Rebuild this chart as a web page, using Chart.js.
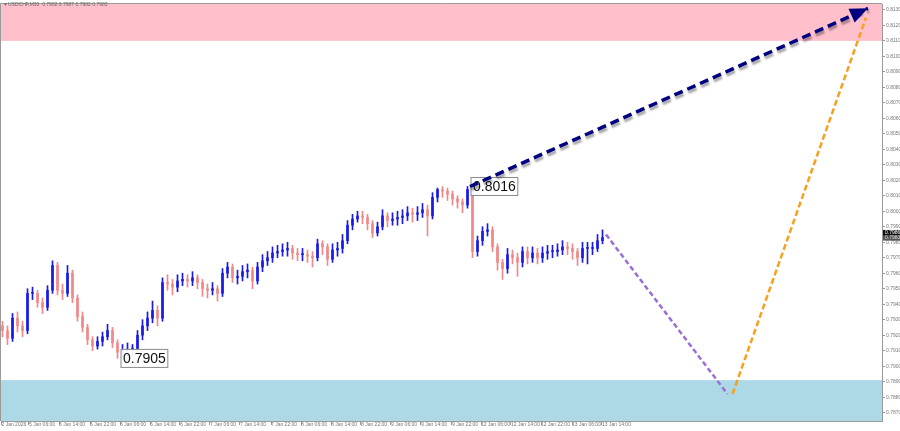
<!DOCTYPE html>
<html>
<head>
<meta charset="utf-8">
<script src="https://cdn.jsdelivr.net/npm/chart.js@4.4.0/dist/chart.umd.min.js"></script>
<style>
  html, body { margin: 0; padding: 0; background: #fff; }
  #wrap { width: 900px; height: 431px; position: relative; }
</style>
</head>
<body>
<div id="wrap"><canvas id="chart"></canvas></div>
<script>
// USDCHF M30 - candles (one candle per ~5px)
const opens = [
  0.7926,0.7923,0.7918,0.7931,0.7926,0.7923,0.7947,0.7947,0.7941,0.7938,
  0.7949,0.7965,0.7949,0.7947,0.7960,0.7944,0.7932,0.7925,0.7917,0.7913,
  0.7916,0.7919,0.7923,0.7915,0.7909,0.7910,0.7911,0.7911,0.7920,0.7926,
  0.7931,0.7936,0.7931,0.7954,0.7953,0.7951,0.7955,0.7956,0.7955,0.7957,
  0.7954,0.7950,0.7949,0.7950,0.7947,0.7960,0.7964,0.7957,0.7958,0.7961,
  0.7962,0.7955,0.7964,0.7968,0.7970,0.7973,0.7974,0.7975,0.7976,0.7973,
  0.7972,0.7972,0.7971,0.7970,0.7979,0.7977,0.7969,0.7975,0.7976,0.7981,
  0.7991,0.7995,0.7997,0.7996,0.7992,0.7986,0.7990,0.7997,0.7994,0.7995,
  0.7996,0.7997,0.7999,0.7998,0.7999,0.8001,0.7997,0.8009,0.8014,0.8013,
  0.8011,0.8008,0.8006,0.8004,0.8014,0.7974,0.7981,0.7987,0.7988,0.7977,
  0.7967,0.7963,0.7972,0.7970,0.7967,0.7974,0.7970,0.7973,0.7970,0.7973,
  0.7974,0.7974,0.7975,0.7977,0.7976,0.7974,0.7970,0.7976,0.7976,0.7976,
  0.7981
];
const closes = [
  0.7923,0.7918,0.7931,0.7926,0.7923,0.7947,0.7947,0.7941,0.7938,0.7949,
  0.7965,0.7949,0.7947,0.7960,0.7944,0.7932,0.7925,0.7917,0.7913,0.7916,
  0.7919,0.7923,0.7915,0.7909,0.7910,0.7911,0.7911,0.7920,0.7926,0.7931,
  0.7936,0.7931,0.7954,0.7953,0.7951,0.7955,0.7956,0.7955,0.7957,0.7954,
  0.7950,0.7949,0.7950,0.7947,0.7960,0.7964,0.7957,0.7958,0.7961,0.7962,
  0.7955,0.7964,0.7968,0.7970,0.7973,0.7974,0.7975,0.7976,0.7973,0.7972,
  0.7972,0.7971,0.7970,0.7979,0.7977,0.7969,0.7975,0.7976,0.7981,0.7991,
  0.7995,0.7997,0.7996,0.7992,0.7986,0.7990,0.7997,0.7994,0.7995,0.7996,
  0.7997,0.7999,0.7998,0.7999,0.8001,0.7997,0.8009,0.8014,0.8013,0.8011,
  0.8008,0.8006,0.8004,0.8014,0.7974,0.7981,0.7987,0.7988,0.7977,0.7967,
  0.7963,0.7972,0.7970,0.7967,0.7974,0.7970,0.7973,0.7970,0.7973,0.7974,
  0.7974,0.7975,0.7977,0.7976,0.7974,0.7970,0.7976,0.7976,0.7976,0.7981,
  0.7983
];
const highs = [
  0.7929,0.7926,0.7934,0.7935,0.7929,0.7950,0.7951,0.7949,0.7944,0.7952,
  0.7968,0.7967,0.7953,0.7965,0.7962,0.7946,0.7935,0.7927,0.7919,0.7919,
  0.7922,0.7927,0.7925,0.7917,0.7914,0.7915,0.7914,0.7923,0.7930,0.7935,
  0.7942,0.7939,0.7957,0.7959,0.7956,0.7959,0.7960,0.7959,0.7961,0.7959,
  0.7956,0.7953,0.7954,0.7952,0.7963,0.7967,0.7966,0.7962,0.7965,0.7966,
  0.7964,0.7967,0.7972,0.7974,0.7977,0.7978,0.7979,0.7980,0.7978,0.7976,
  0.7976,0.7975,0.7974,0.7982,0.7981,0.7979,0.7979,0.7980,0.7985,0.7994,
  0.7998,0.8000,0.8000,0.7998,0.7994,0.7993,0.8001,0.7999,0.7999,0.8000,
  0.8001,0.8003,0.8002,0.8003,0.8005,0.8004,0.8012,0.8015,0.8016,0.8015,
  0.8013,0.8010,0.8008,0.8016,0.8015,0.7984,0.7990,0.7992,0.7990,0.7979,
  0.7969,0.7976,0.7975,0.7973,0.7977,0.7977,0.7977,0.7976,0.7977,0.7978,
  0.7978,0.7979,0.7981,0.7980,0.7979,0.7976,0.7980,0.7980,0.7980,0.7985,
  0.7988
];
const lows = [
  0.7919,0.7914,0.7916,0.7922,0.7919,0.7921,0.7943,0.7938,0.7934,0.7936,
  0.7947,0.7946,0.7943,0.7945,0.7941,0.7929,0.7922,0.7914,0.7910,0.7911,
  0.7913,0.7917,0.7912,0.7905,0.7906,0.7907,0.7907,0.7909,0.7917,0.7923,
  0.7928,0.7926,0.7929,0.7949,0.7946,0.7948,0.7952,0.7951,0.7952,0.7950,
  0.7945,0.7944,0.7946,0.7942,0.7945,0.7957,0.7954,0.7953,0.7955,0.7957,
  0.7950,0.7953,0.7961,0.7965,0.7967,0.7970,0.7971,0.7971,0.7969,0.7968,
  0.7968,0.7967,0.7964,0.7968,0.7972,0.7965,0.7967,0.7971,0.7973,0.7979,
  0.7988,0.7993,0.7992,0.7988,0.7983,0.7984,0.7988,0.7990,0.7991,0.7991,
  0.7992,0.7994,0.7993,0.7994,0.7996,0.7984,0.7995,0.8006,0.8009,0.8007,
  0.8004,0.8002,0.7999,0.8002,0.7970,0.7971,0.7978,0.7984,0.7974,0.7962,
  0.7956,0.7960,0.7966,0.7958,0.7964,0.7966,0.7967,0.7966,0.7967,0.7969,
  0.7970,0.7971,0.7972,0.7972,0.7969,0.7965,0.7967,0.7966,0.7972,0.7974,
  0.7979
];

// time axis labels and where they sit (candle index)
const timeLabels = ['2 Jan 2026','5 Jan 06:00','5 Jan 14:00','5 Jan 22:00','6 Jan 06:00','6 Jan 14:00',
  '6 Jan 22:00','7 Jan 06:00','7 Jan 14:00','7 Jan 22:00','8 Jan 06:00','8 Jan 14:00','8 Jan 22:00',
  '9 Jan 06:00','9 Jan 14:00','9 Jan 22:00','12 Jan 06:00','12 Jan 14:00','12 Jan 22:00',
  '13 Jan 06:00','13 Jan 14:00'];
const timeTickPos = [-0.2,5.3,11.3,17.5,23.5,29.5,35.5,41.5,47.5,53.7,59.7,65.7,71.7,77.7,83.7,
  89.9,95.7,101.7,107.7,113.9,119.9];

// zones
const resistanceZone = [0.8110, 0.8140];
const supportZone = [0.7860, 0.7891];

// wave forecast (index, price)
const waveMain = [{x: 93.5, y: 0.8016}, {x: 173.1, y: 0.8131}];
const waveDown = [{x: 120.7, y: 0.7985}, {x: 145.0, y: 0.7882}];
const waveUp = [{x: 146.0, y: 0.7882}, {x: 172.7, y: 0.8125}];

// price labels on the extremes
const extremes = [{i: 23, price: 0.7905}, {i: 93, price: 0.8016}];

const headerText = 'USDCHF,M30  0.7982 0.7987 0.7982 0.7983';
const askPrice = 0.7986;
const bidPrice = 0.7983;

const BULL = '#1a1ae6';
const BEAR = '#f08a8a';
const candleColors = closes.map((c, i) => c >= opens[i] ? BULL : BEAR);

const wickData = lows.map((l, i) => ({x: i, y: [l, highs[i]]}));
const bodyData = closes.map((c, i) => ({x: i, y: [opens[i], c]}));

// zones, borders, labels and arrowhead
const decorPlugin = {
  id: 'decor',
  beforeDatasetsDraw(chart) {
    const {ctx, chartArea: a, scales: {y}} = chart;
    ctx.save();
    ctx.beginPath();
    ctx.rect(a.left, a.top, a.right - a.left, a.bottom - a.top);
    ctx.clip();
    ctx.fillStyle = '#ffc0cb';
    let t = y.getPixelForValue(resistanceZone[1]);
    let b = y.getPixelForValue(resistanceZone[0]);
    ctx.fillRect(a.left, t, a.right - a.left, b - t);
    ctx.fillStyle = '#add8e6';
    t = y.getPixelForValue(supportZone[1]);
    b = y.getPixelForValue(supportZone[0]);
    ctx.fillRect(a.left, t, a.right - a.left, b - t);
    ctx.restore();
  },
  beforeDatasetDraw(chart, args) {
    if (chart.data.datasets[args.index].label === 'main') {
      chart.ctx.save();
      chart.ctx.shadowColor = 'rgba(0,0,0,0.35)';
      chart.ctx.shadowOffsetX = 1;
      chart.ctx.shadowOffsetY = 3;
      chart.ctx.shadowBlur = 2;
    }
  },
  afterDatasetDraw(chart, args) {
    const label = chart.data.datasets[args.index].label;
    const ctx = chart.ctx;
    if (label === 'main') {
      ctx.restore();
    }
    if (label === 'bodies') {
      // extreme labels: over the candles, under the wave lines
      const {scales: {x, y}} = chart;
      ctx.save();
      ctx.font = '14px "Liberation Sans", Arial, sans-serif';
      ctx.textBaseline = 'middle';
      ctx.textAlign = 'left';
      extremes.forEach(e => {
        const px = x.getPixelForValue(e.i) + 3;
        const py = y.getPixelForValue(e.price);
        const txt = e.price.toFixed(4);
        const w = ctx.measureText(txt).width + 4;
        ctx.fillStyle = 'rgba(255,255,255,0.92)';
        ctx.fillRect(px, py - 9.5, w, 19);
        ctx.strokeStyle = '#8a8a8a';
        ctx.lineWidth = 1;
        ctx.strokeRect(px + 0.5, py - 9, w, 18);
        ctx.fillStyle = '#111';
        ctx.fillText(txt, px + 2.5, py + 0.5);
      });
      ctx.restore();
    }
  },
  afterDraw(chart) {
    const {ctx, chartArea: a, scales: {x, y}} = chart;
    ctx.save();
    // frame
    ctx.strokeStyle = '#9a9a9a';
    ctx.lineWidth = 1;
    ctx.beginPath();
    ctx.moveTo(a.left - 0.5, a.bottom);
    ctx.lineTo(a.left - 0.5, a.top - 0.5);
    ctx.lineTo(a.right, a.top - 0.5);
    ctx.stroke();

    // arrowhead on the main wave
    const x1 = x.getPixelForValue(waveMain[0].x), y1 = y.getPixelForValue(waveMain[0].y);
    const x2 = x.getPixelForValue(waveMain[1].x), y2 = y.getPixelForValue(waveMain[1].y);
    const ang = Math.atan2(y2 - y1, x2 - x1);
    ctx.fillStyle = '#000080';
    ctx.beginPath();
    ctx.moveTo(x2, y2);
    ctx.lineTo(x2 - 18 * Math.cos(ang) + 7.5 * Math.sin(ang), y2 - 18 * Math.sin(ang) - 7.5 * Math.cos(ang));
    ctx.lineTo(x2 - 18 * Math.cos(ang) - 7.5 * Math.sin(ang), y2 - 18 * Math.sin(ang) + 7.5 * Math.cos(ang));
    ctx.closePath();
    ctx.fill();

    // header
    ctx.font = '5px "Liberation Sans", Arial, sans-serif';
    ctx.textBaseline = 'middle';
    ctx.textAlign = 'left';
    ctx.fillStyle = '#666';
    ctx.fillText('\u25BC', 3, 5);
    ctx.fillText(headerText, 8, 5);

    // current price boxes on the axis
    const ya = y.getPixelForValue(askPrice);
    ctx.fillStyle = '#111';
    ctx.fillRect(a.right + 1, ya - 3, 17, 6);
    ctx.fillStyle = '#fff';
    ctx.fillText(askPrice.toFixed(4), a.right + 3, ya);
    const yb = y.getPixelForValue(bidPrice);
    ctx.fillStyle = '#555';
    ctx.fillRect(a.right + 1, yb - 2, 17, 5);
    ctx.fillStyle = '#ddd';
    ctx.fillText(bidPrice.toFixed(4), a.right + 3, yb + 0.5);
    ctx.restore();
  }
};

const ctx = document.getElementById('chart').getContext('2d');
new Chart(ctx, {
  data: {
    datasets: [
      {type: 'line', label: 'main', data: waveMain, borderColor: '#000080', borderWidth: 3.5,
        borderDash: [9, 5], pointRadius: 0, order: 0},
      {type: 'line', label: 'down', data: waveDown, borderColor: '#9b6fd6', borderWidth: 2.5,
        borderDash: [5, 3], pointRadius: 0, order: 0},
      {type: 'line', label: 'up', data: waveUp, borderColor: '#f7a020', borderWidth: 2.5,
        borderDash: [6, 3], pointRadius: 0, order: 0},
      {type: 'bar', label: 'bodies', data: bodyData, backgroundColor: candleColors,
        barThickness: 2, minBarLength: 1, grouped: false, order: 1},
      {type: 'bar', label: 'wicks', data: wickData, backgroundColor: candleColors,
        barThickness: 1, grouped: false, order: 2}
    ]
  },
  options: {
    responsive: true,
    maintainAspectRatio: false,
    animation: false,
    layout: {padding: {top: 1, left: 1, right: 0, bottom: 0}},
    plugins: {legend: {display: false}, tooltip: {enabled: false}},
    scales: {
      x: {
        type: 'linear',
        offset: false,
        min: -0.3,
        max: 175.9,
        afterBuildTicks: axis => { axis.ticks = timeTickPos.map(v => ({value: v})); },
        afterFit: axis => { axis.height = 10; },
        grid: {drawOnChartArea: false, offset: false, tickLength: 4, color: '#9a9a9a'},
        border: {color: '#9a9a9a'},
        ticks: {
          autoSkip: false,
          maxRotation: 0,
          align: 'start',
          padding: -3,
          color: '#777',
          font: {size: 5, family: '"Liberation Sans", Arial, sans-serif'},
          callback: (v, i) => timeLabels[i]
        }
      },
      y: {
        type: 'linear',
        position: 'right',
        min: 0.78646,
        max: 0.81338,
        afterFit: axis => { axis.width = 18; },
        grid: {drawOnChartArea: false, tickLength: 3, color: '#9a9a9a'},
        border: {color: '#9a9a9a'},
        ticks: {
          stepSize: 0.001,
          includeBounds: false,
          padding: 1,
          color: '#777',
          font: {size: 5, family: '"Liberation Sans", Arial, sans-serif'},
          callback: v => v.toFixed(4)
        }
      }
    }
  },
  plugins: [decorPlugin]
});
</script>
</body>
</html>
